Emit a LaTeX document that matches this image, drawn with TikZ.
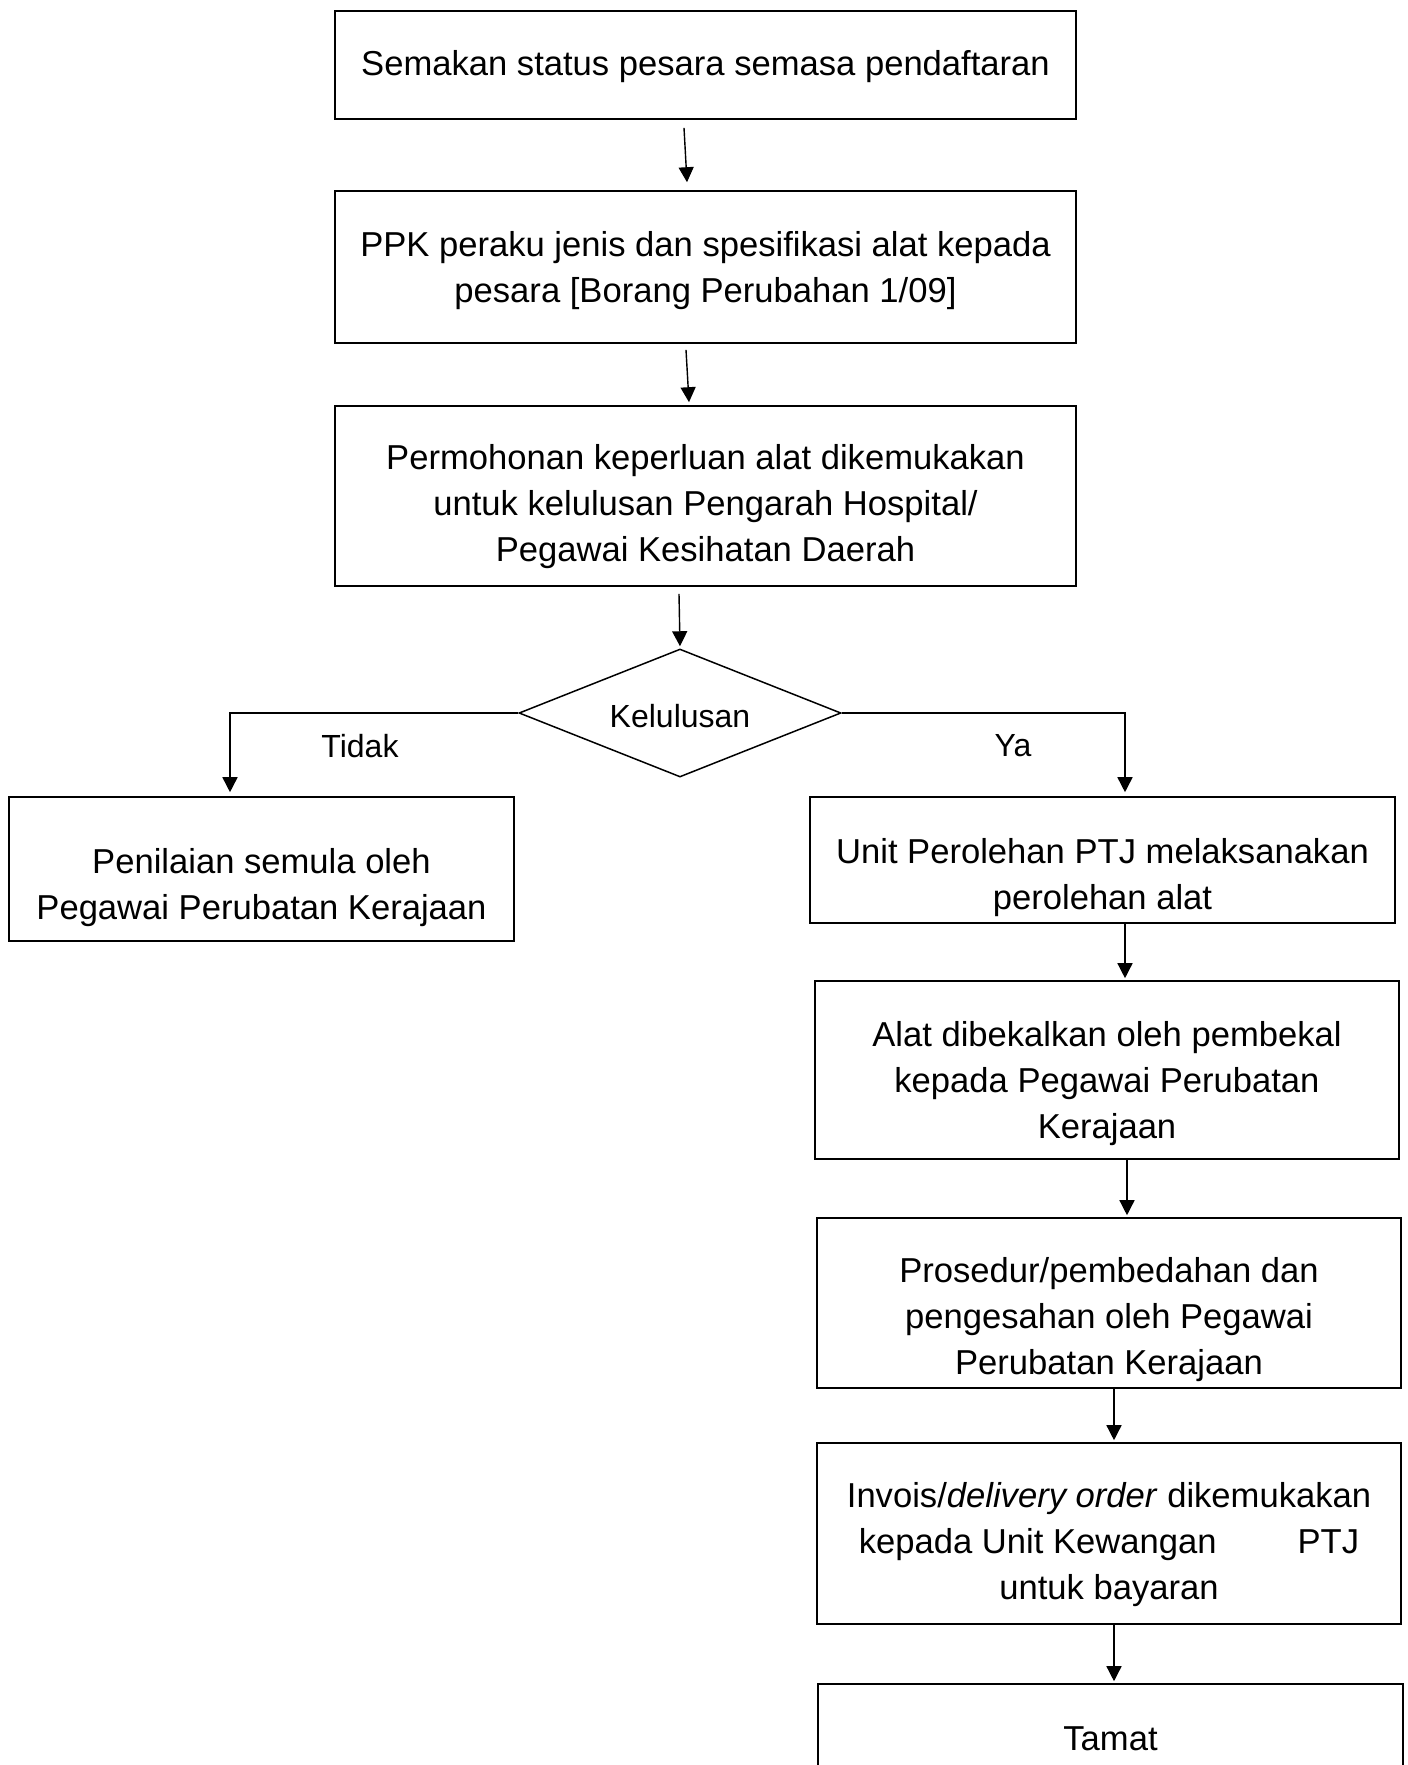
\documentclass[tikz,border=0pt]{standalone}
\usepackage{fontspec}
\setmainfont{Liberation Sans}
\usetikzlibrary{shapes.geometric,arrows.meta,calc}
\begin{document}
\begin{tikzpicture}[x=1pt,y=-1pt,
  box/.style={draw,line width=1.6pt,fill=white,inner sep=0pt},
  txt/.style={align=center,inner sep=0pt,font=\fontsize{34.6}{46}\selectfont},
  dec/.style={diamond,draw,line width=1.5pt,fill=white,inner sep=0pt,aspect=2.5},
  lbl/.style={font=\fontsize{32}{40}\selectfont,inner sep=0pt},
  arr/.style={line width=1.4pt,-{Triangle[length=15pt,width=15pt]}},
  branch/.style={line width=1.6pt,-{Triangle[length=15pt,width=15pt]}}
]
\useasboundingbox (0,0) rectangle (1408,1765);
\clip (0,0) rectangle (1408,1765);
\fill[white] (0,0) rectangle (1408,1765);

\node[box,minimum width=741pt,minimum height=108pt,
  label={[txt,yshift=-2pt]center:{Semakan status pesara semasa pendaftaran}}] (b1) at (705.5,65) {};
\node[box,minimum width=741pt,minimum height=152pt,
  label={[txt,yshift=-3.5pt]center:{PPK peraku jenis dan spesifikasi alat kepada\\pesara [Borang Perubahan 1/09]}}] (b2) at (705.5,267) {};
\node[box,minimum width=741pt,minimum height=180pt,
  label={[txt,yshift=-11pt]center:{Permohonan keperluan alat dikemukakan\\untuk kelulusan Pengarah Hospital/\\Pegawai Kesihatan Daerah}}] (b3) at (705.5,496) {};
\node[dec,minimum width=322pt,minimum height=128pt,
  label={[lbl,yshift=-3pt]center:{Kelulusan}}] (d) at (680,713) {};
\node[lbl] (lt) at (360,746) {Tidak};
\node[lbl] (ly) at (1013,746) {Ya};

\node[box,minimum width=505pt,minimum height=144pt,
  label={[txt,yshift=-19pt]center:{Penilaian semula oleh\\Pegawai Perubatan Kerajaan}}] (lb) at (261.5,869) {};
\node[box,minimum width=585pt,minimum height=126pt,
  label={[txt,yshift=-18pt]center:{Unit Perolehan PTJ melaksanakan\\perolehan alat}}] (ub) at (1102.5,860) {};
\node[box,minimum width=584pt,minimum height=178pt,
  label={[txt,yshift=-13.5pt]center:{Alat dibekalkan oleh pembekal\\kepada Pegawai Perubatan\\Kerajaan}}] (ab) at (1107,1070) {};
\node[box,minimum width=584pt,minimum height=170pt,
  label={[txt,yshift=-17pt]center:{Prosedur/pembedahan dan\\pengesahan oleh Pegawai\\Perubatan Kerajaan}}] (pb) at (1109,1303) {};
\node[box,minimum width=584pt,minimum height=181pt,
  label={[txt,yshift=-11pt]center:{Invois/\textit{delivery order} dikemukakan\\kepada Unit Kewangan\hspace{81pt}PTJ\\untuk bayaran}}] (ib) at (1109,1533.5) {};
\node[box,minimum width=585pt,minimum height=110pt,
  label={[txt]center:{Tamat}}] (tb) at (1110.5,1739) {};

\draw[arr] ([xshift=-21.5pt,yshift=-8pt]b1.south) -- ([xshift=-18.5pt,yshift=8pt]b2.north);
\draw[arr] ([xshift=-19.5pt,yshift=-6pt]b2.south) -- ([xshift=-16.5pt,yshift=3pt]b3.north);
\draw[arr] ([xshift=-26.5pt,yshift=-7pt]b3.south) -- ([yshift=2pt]d.north);
\draw[branch] (d.west) -| ([xshift=-31.5pt,yshift=4pt]lb.north);
\draw[branch] (d.east) -| ([xshift=22.5pt,yshift=4pt]ub.north);
\draw[arr] ([xshift=22.5pt]ub.south) -- ([xshift=22.5pt,yshift=2pt]ub.south |- ab.north);
\draw[arr] ([xshift=20pt]ab.south) -- ([xshift=20pt,yshift=2pt]ab.south |- pb.north);
\draw[arr] ([xshift=5pt]pb.south) -- ([xshift=5pt,yshift=2pt]pb.south |- ib.north);
\draw[arr] ([xshift=5pt]ib.south) -- ([xshift=5pt,yshift=2pt]ib.south |- tb.north);
\end{tikzpicture}
\end{document}
